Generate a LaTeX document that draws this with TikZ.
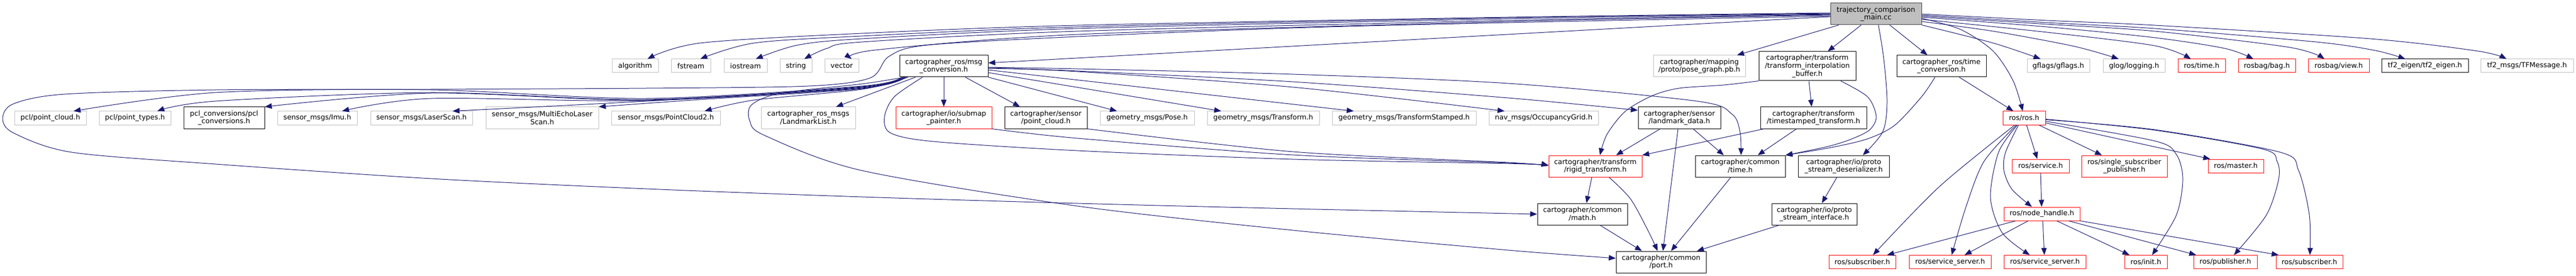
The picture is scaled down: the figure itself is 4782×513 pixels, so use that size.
\documentclass[tikz,border=0pt]{standalone}
\usepackage{fontspec}
\setmainfont{DejaVu Sans}
\usetikzlibrary{arrows.meta}
\definecolor{edgec}{HTML}{191970}
\definecolor{grayb}{HTML}{C0C0C0}
\definecolor{mainfill}{HTML}{BFBFBF}
\definecolor{darkb}{HTML}{404040}
\definecolor{redb}{HTML}{FF0000}
\begin{document}
\begin{tikzpicture}[x=1pt,y=-1pt,
  box/.style={draw, line width=1pt, inner sep=0pt, align=center, font=\fontsize{13}{14.8}\selectfont},
  one/.style={minimum height=25pt},
  two/.style={minimum height=40pt},
  sysbox/.style={box, draw=grayb, one},
  locbox/.style={box, draw=black, two},
  redbox/.style={box, draw=redb, two},
  dep/.style={draw=edgec, line width=1pt, line join=round, -{Triangle[length=13pt,width=10pt]}}
]
\useasboundingbox (0,0) rectangle (4782,513);

% main
\node[box, draw=darkb, fill=mainfill, two, minimum width=169pt] (main) at (3482.5,26) {trajectory\_comparison\\\_main.cc};

% row 1
\node[sysbox, minimum width=86pt] (alg) at (1179,122.5) {algorithm};
\node[sysbox, minimum width=73pt] (fst) at (1282.5,122.5) {fstream};
\node[sysbox, minimum width=80pt] (ios) at (1384,122.5) {iostream};
\node[sysbox, minimum width=59pt] (str) at (1477.5,122.5) {string};
\node[sysbox, minimum width=63pt] (vec) at (1562.5,122.5) {vector};
\node[locbox, minimum width=164pt] (msg) at (1752,123) {cartographer\_ros/msg\\\_conversion.h};
\node[sysbox, two, minimum width=171pt] (pg) at (3154.5,123) {cartographer/mapping\\/proto/pose\_graph.pb.h};
\node[locbox, minimum height=54pt, minimum width=180pt] (tib) at (3355,123) {cartographer/transform\\/transform\_interpolation\\\_buffer.h};
\node[locbox, minimum width=166pt] (tc) at (3604,123) {cartographer\_ros/time\\\_conversion.h};
\node[sysbox, minimum width=116pt] (gf) at (3821,122.5) {gflags/gflags.h};
\node[sysbox, minimum width=115pt] (gl) at (3961.5,122.5) {glog/logging.h};
\node[redbox, one, minimum width=88pt] (rt) at (4087,122.5) {ros/time.h};
\node[redbox, one, minimum width=106pt] (rb) at (4208,122.5) {rosbag/bag.h};
\node[redbox, one, minimum width=113pt] (rv) at (4341.5,122.5) {rosbag/view.h};
\node[locbox, one, minimum width=161pt] (te) at (4501.5,122.5) {tf2\_eigen/tf2\_eigen.h};
\node[sysbox, minimum width=172pt] (tm) at (4691,122.5) {tf2\_msgs/TFMessage.h};

% row 2
\node[sysbox, minimum width=133pt] (pcc) at (93.5,219.5) {pcl/point\_cloud.h};
\node[sysbox, minimum width=133pt] (pct) at (250.5,219.5) {pcl/point\_types.h};
\node[locbox, minimum width=150pt] (pcv) at (416,219) {pcl\_conversions/pcl\\\_conversions.h};
\node[sysbox, minimum width=148pt] (imu) at (589,219.5) {sensor\_msgs/Imu.h};
\node[sysbox, minimum width=189pt] (ls) at (782.5,219.5) {sensor\_msgs/LaserScan.h};
\node[sysbox, two, minimum width=209pt] (me) at (1006.5,219) {sensor\_msgs/MultiEchoLaser\\Scan.h};
\node[sysbox, minimum width=202pt] (pc2) at (1236,219.5) {sensor\_msgs/PointCloud2.h};
\node[sysbox, two, minimum width=175pt] (ll) at (1500.5,219) {cartographer\_ros\_msgs\\/LandmarkList.h};
\node[redbox, minimum width=178pt] (sp) at (1752,219) {cartographer/io/submap\\\_painter.h};
\node[locbox, minimum width=153pt] (spc) at (1941.5,219) {cartographer/sensor\\/point\_cloud.h};
\node[sysbox, minimum width=175pt] (pose) at (2129.5,219.5) {geometry\_msgs/Pose.h};
\node[sysbox, minimum width=208pt] (tr) at (2345,219.5) {geometry\_msgs/Transform.h};
\node[sysbox, minimum width=267pt] (ts) at (2606.5,219.5) {geometry\_msgs/TransformStamped.h};
\node[sysbox, minimum width=203pt] (og) at (2865.5,219.5) {nav\_msgs/OccupancyGrid.h};
\node[locbox, minimum width=153pt] (ld) at (3117.5,219) {cartographer/sensor\\/landmark\_data.h};
\node[locbox, minimum width=197pt] (tst) at (3366.5,219) {cartographer/transform\\/timestamped\_transform.h};
\node[redbox, one, minimum width=79pt] (ros) at (3757.5,219.5) {ros/ros.h};

% row 3
\node[redbox, minimum width=173pt] (rig) at (2961.5,309) {cartographer/transform\\/rigid\_transform.h};
\node[locbox, minimum width=167pt] (ct) at (3230.5,309) {cartographer/common\\/time.h};
\node[locbox, minimum width=169pt] (psd) at (3422.5,309) {cartographer/io/proto\\\_stream\_deserializer.h};
\node[redbox, one, minimum width=106pt] (srv) at (3788,308.5) {ros/service.h};
\node[redbox, minimum width=159pt] (ssp) at (3943.5,309) {ros/single\_subscriber\\\_publisher.h};
\node[redbox, one, minimum width=103pt] (mst) at (4150.5,308.5) {ros/master.h};

% row 4
\node[locbox, minimum width=167pt] (mth) at (2937.5,398) {cartographer/common\\/math.h};
\node[locbox, minimum width=158pt] (psi) at (3368,398) {cartographer/io/proto\\\_stream\_interface.h};
\node[redbox, one, minimum width=141pt] (nh) at (3790.5,397.5) {ros/node\_handle.h};

% row 5
\node[locbox, minimum width=167pt] (port) at (3083.5,487) {cartographer/common\\/port.h};
\node[redbox, one, minimum width=124pt] (sub1) at (3457,487) {ros/subscriber.h};
\node[redbox, one, minimum width=152pt] (ss1) at (3620,487) {ros/service\_server.h};
\node[redbox, one, minimum width=152pt] (ss2) at (3796,487) {ros/service\_server.h};
\node[redbox, one, minimum width=79pt] (init) at (3983.5,487) {ros/init.h};
\node[redbox, one, minimum width=118pt] (pub) at (4131,487) {ros/publisher.h};
\node[redbox, one, minimum width=124pt] (sub2) at (4287,487) {ros/subscriber.h};

% ---- edges from main, left bundle
\draw[dep] plot[smooth] coordinates {([yshift=2pt]main.west) (2800,32) (2000,47) (1600,62) (1300,80) ([xshift=23pt]alg.north)};
\draw[dep] plot[smooth] coordinates {([yshift=1pt]main.west) (2800,33) (2000,50) (1600,67) (1400,80) ([xshift=17.5pt]fst.north)};
\draw[dep] plot[smooth] coordinates {(main.west) (2800,35) (2000,53) (1600,72) (1480,84) ([xshift=19pt]ios.north)};
\draw[dep] plot[smooth] coordinates {([yshift=-1pt]main.west) (2800,38) (2000,58) (1600,78) (1535,90) ([xshift=15.5pt]str.north)};
\draw[dep] plot[smooth] coordinates {([yshift=-2pt]main.west) (2800,40) (2000,64) (1625,93) ([xshift=18.5pt]vec.north)};
\draw[dep] plot[smooth] coordinates {([yshift=-4pt]main.west) (2800,42) (2400,52) (2000,68) (1720,84) (1650,105) (1615,145) (1500,160) (1200,164) (800,166) (400,167) (120,175) (25,193) (5,220) (25,247) (133,283) (400,305) (800,332) (1200,351) (1600,366) (2000,378) (2400,388) (mth.west)};
\draw[dep] ([yshift=-5pt]main.west) -- ([yshift=6pt]msg.east);

% ---- main, bottom
\draw[dep] ([xshift=-69pt]main.south) -- ([xshift=70pt]pg.north);
\draw[dep] ([xshift=-27.5pt]main.south) -- ([xshift=38pt]tib.north);
\draw[dep] ([xshift=25.5pt]main.south) -- ([xshift=-26pt]tc.north);
\draw[dep] plot[smooth] coordinates {([xshift=4.5pt]main.south) (3497,110) (3503,190) (3495,245) ([xshift=35.5pt]psd.north)};

% ---- main, right
\draw[dep] plot[smooth] coordinates {([yshift=-8pt]main.east) (3640,55) (3700,95) (3737,150) ([xshift=-2.5pt]ros.north)};
\draw[dep] plot[smooth] coordinates {(main.south east) (3700,80) ([xshift=-33pt]gf.north)};
\draw[dep] plot[smooth] coordinates {([yshift=-14pt]main.east) (3700,58) (3850,86) ([xshift=-28.5pt]gl.north)};
\draw[dep] plot[smooth] coordinates {([yshift=-10pt]main.east) (3800,60) (4000,85) ([xshift=-20pt]rt.north)};
\draw[dep] plot[smooth] coordinates {([yshift=-6pt]main.east) (3800,50) (4000,70) (4130,90) ([xshift=-25pt]rb.north)};
\draw[dep] plot[smooth] coordinates {([yshift=-4pt]main.east) (3800,45) (4000,58) (4250,88) ([xshift=-26.5pt]rv.north)};
\draw[dep] plot[smooth] coordinates {([yshift=-2pt]main.east) (3800,42) (4000,53) (4300,78) (4410,94) ([xshift=-36.5pt]te.north)};
\draw[dep] plot[smooth] coordinates {(main.east) (3800,38) (4000,47) (4400,72) (4600,95) ([xshift=-38pt]tm.north)};

% ---- msg_conversion, left
\draw[dep] plot[smooth] coordinates {([xshift=4pt]msg.south west) (1600,160) (1200,183) (800,167) (400,172) ([xshift=43pt]pcc.north)};
\draw[dep] plot[smooth] coordinates {([xshift=6pt]msg.south west) (1600,161) (1200,185) (800,172) (400,188) ([xshift=41.5pt]pct.north)};
\draw[dep] plot[smooth] coordinates {([xshift=8pt]msg.south west) (1600,162) (1200,186) (800,173) (pcv.north east)};
\draw[dep] plot[smooth] coordinates {([xshift=10pt]msg.south west) (1600,163) (1200,187) (800,183) ([xshift=46pt]imu.north)};
\draw[dep] plot[smooth] coordinates {([xshift=12pt]msg.south west) (1600,164) (1200,188) ([xshift=57.5pt]ls.north)};
\draw[dep] plot[smooth] coordinates {([xshift=14pt]msg.south west) (1600,165) (1300,185) (me.north east)};
\draw[dep] plot[smooth] coordinates {([xshift=16pt]msg.south west) (1600,166) (1400,186) ([xshift=72pt]pc2.north)};
\draw[dep] ([xshift=30pt]msg.south west) -- ([xshift=51.5pt]ll.north);
\draw[dep] plot[smooth] coordinates {([xshift=10pt]msg.south west) (1600,156) (1450,173) (1395,195) (1392,225) (1420,252) (1600,317) (2000,383) (2400,428) (2800,465) ([yshift=7pt]port.west)};

% ---- msg_conversion, down and right
\draw[dep] (msg.south) -- (sp.north);
\draw[dep] ([xshift=40pt]msg.south) -- ([xshift=-48pt]spc.north);
\draw[dep] plot[smooth] coordinates {([xshift=43pt]msg.south west) (1660,180) (1642,217) (1653,247) (1733,263) (2000,280) (2400,296) (2800,304) ([yshift=2pt]rig.west)};
\draw[dep] plot[smooth] coordinates {(sp.south east) (2000,257) (2400,288) (2800,303) ([yshift=1pt]rig.west)};
\draw[dep] plot[smooth] coordinates {(spc.south east) (2400,282) (2800,302) ([yshift=1pt]rig.west)};
\draw[dep] (msg.south east) -- ([xshift=-56pt]pose.north);
\draw[dep] ([yshift=-12pt]msg.east) -- ([xshift=-78pt]tr.north);
\draw[dep] ([yshift=-7pt]msg.east) -- ([xshift=-93.5pt]ts.north);
\draw[dep] plot[smooth] coordinates {([yshift=-4pt]msg.east) (2000,133) (2400,162) ([xshift=-72.5pt]og.north)};
\draw[dep] plot[smooth] coordinates {([yshift=-3pt]msg.east) (2000,132) (2400,152) (2800,182) ([yshift=14pt]ld.west)};
\draw[dep] plot[smooth] coordinates {([yshift=-2pt]msg.east) (2000,128) (2400,138) (2800,155) (3150,188) (3215,212) (3230,245) ([xshift=1.5pt]ct.north)};

% ---- transform cluster
\draw[dep] ([xshift=3pt]tib.south) -- ([xshift=-3.5pt]tst.north);
\draw[dep] plot[smooth] coordinates {([xshift=62pt]tib.south) (3467,180) (3483,217) (3470,242) (3433,260) (3390,273) (ct.north east)};
\draw[dep] plot[smooth] coordinates {([xshift=-12pt]tc.south) (3567,180) (3517,233) (3467,258) (3400,274) (ct.north east)};
\draw[dep] plot[smooth] coordinates {(tib.south west) (3200,158) (3117,164) (3067,178) (3017,207) (2983,250) ([xshift=8.5pt]rig.north)};
\draw[dep] ([xshift=-31.5pt]tst.south) -- ([xshift=32.5pt]ct.north);
\draw[dep] ([xshift=7pt]tst.south west) -- (rig.north east);
\draw[dep] ([xshift=-35.5pt]ld.south) -- ([xshift=38.5pt]rig.north);
\draw[dep] ([xshift=-2.5pt]ld.south) -- ([xshift=3.5pt]port.north);
\draw[dep] ([xshift=25.5pt]ld.south) -- ([xshift=-30.5pt]ct.north);
\draw[dep] ([xshift=-6.5pt]rig.south) -- ([xshift=7.5pt]mth.north);
\draw[dep] plot[smooth] coordinates {([xshift=25.5pt]rig.south) (3027,370) (3060,430) ([xshift=-6.5pt]port.north)};
\draw[dep] ([xshift=32.5pt]mth.south) -- ([xshift=-35.5pt]port.north);
\draw[dep] ([xshift=-17.5pt]ct.south) -- ([xshift=18.5pt]port.north);
\draw[dep] ([xshift=-65pt]psi.south) -- ([xshift=66.5pt]port.north);
\draw[dep] ([xshift=-12.5pt]psd.south) -- ([xshift=14pt]psi.north);

% ---- ros cluster
\draw[dep] ([xshift=33pt]tc.south) -- ([xshift=-20pt]ros.north);
\draw[dep] ([xshift=4.5pt]ros.south) -- ([xshift=-6pt]srv.north);
\draw[dep] ([xshift=27.5pt]ros.south) -- ([xshift=-41.5pt]ssp.north);
\draw[dep] (srv.south) -- ([xshift=-0.5pt]nh.north);
\draw[dep] plot[smooth] coordinates {([xshift=-10.5pt]ros.south) (3723,283) (3720,317) (3735,352) ([xshift=-18.5pt]nh.north)};
\draw[dep] plot[smooth] coordinates {([xshift=-12.5pt]ros.south) (3710,283) (3695,367) (3717,433) ([xshift=-28pt]ss2.north)};
\draw[dep] plot[smooth] coordinates {([xshift=-14.5pt]ros.south) (3683,300) (3650,383) ([xshift=3pt]ss1.north)};
\draw[dep] plot[smooth] coordinates {([xshift=-17.5pt]ros.south) (3600,347) ([xshift=20pt]sub1.north)};
\draw[dep] ([yshift=-9pt]ros.east) -- ([xshift=-47.5pt]mst.north);
\draw[dep] plot[smooth] coordinates {([yshift=-6pt]ros.east) (4000,262) (4040,287) (4052,333) (4040,400) ([xshift=11.5pt]init.north)};
\draw[dep] plot[smooth] coordinates {([yshift=-2pt]ros.east) (4000,242) (4200,277) (4227,300) (4230,333) (4207,400) ([xshift=16pt]pub.north)};
\draw[dep] plot[smooth] coordinates {([yshift=-3pt]ros.east) (4000,241) (4233,283) (4267,317) (4287,400) ([xshift=1pt]sub2.north)};
\draw[dep] ([xshift=-48.5pt]nh.south) -- ([xshift=46pt]sub1.north);
\draw[dep] ([xshift=-25.5pt]nh.south) -- ([xshift=27pt]ss1.north);
\draw[dep] ([xshift=1.5pt]nh.south) -- ([xshift=-1pt]ss2.north);
\draw[dep] ([xshift=27.5pt]nh.south) -- ([xshift=-30.5pt]init.north);
\draw[dep] ([xshift=49.5pt]nh.south) -- ([xshift=-54pt]pub.north);
\draw[dep] (nh.south east) -- ([xshift=-57pt]sub2.north);
\end{tikzpicture}
\end{document}
